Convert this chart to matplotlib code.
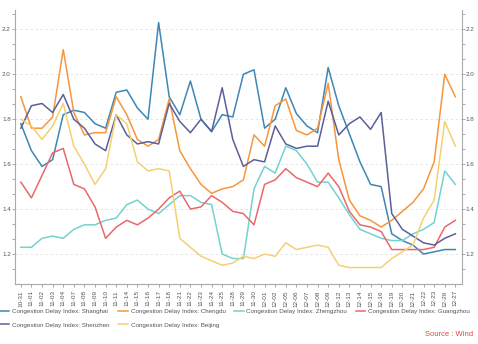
import numpy as np
import matplotlib
matplotlib.use("Agg")
import matplotlib.pyplot as plt
from matplotlib.ticker import MultipleLocator

plt.rcParams['font.family'] = ['Liberation Sans', 'DejaVu Sans']

dates = ["10-31", "11-01", "11-02", "11-03", "11-04", "11-07", "11-08", "11-09",
         "11-10", "11-11", "11-14", "11-15", "11-16", "11-17", "11-18", "11-21",
         "11-22", "11-23", "11-24", "11-25", "11-28", "11-29", "11-30", "12-01",
         "12-02", "12-05", "12-06", "12-07", "12-08", "12-09", "12-12", "12-13",
         "12-14", "12-15", "12-16", "12-19", "12-20", "12-21", "12-22", "12-23",
         "12-26", "12-27"]

shanghai = [1.78, 1.66, 1.59, 1.62, 1.82, 1.84, 1.83, 1.78, 1.76, 1.92, 1.93, 1.85,
            1.80, 2.23, 1.90, 1.82, 1.97, 1.80, 1.745, 1.82, 1.81, 2.00, 2.02, 1.76,
            1.80, 1.94, 1.825, 1.77, 1.74, 2.03, 1.86, 1.735, 1.61, 1.51, 1.50, 1.29,
            1.26, 1.24, 1.20, 1.21, 1.22, 1.22]
chengdu = [1.90, 1.76, 1.76, 1.81, 2.11, 1.83, 1.73, 1.74, 1.74, 1.90, 1.82, 1.71,
           1.68, 1.71, 1.89, 1.66, 1.58, 1.51, 1.47, 1.49, 1.50, 1.53, 1.73, 1.68,
           1.86, 1.89, 1.75, 1.73, 1.76, 1.96, 1.62, 1.44, 1.37, 1.35, 1.32, 1.35,
           1.39, 1.43, 1.49, 1.61, 2.00, 1.90]
zhengzhou = [1.23, 1.23, 1.27, 1.28, 1.27, 1.31, 1.33, 1.33, 1.35, 1.36, 1.42, 1.44,
             1.40, 1.38, 1.42, 1.46, 1.46, 1.43, 1.42, 1.20, 1.18, 1.18, 1.49, 1.59,
             1.56, 1.68, 1.66, 1.60, 1.52, 1.52, 1.45, 1.375, 1.31, 1.29, 1.27, 1.26,
             1.26, 1.29, 1.31, 1.34, 1.57, 1.51]
guangzhou = [1.52, 1.45, 1.55, 1.65, 1.67, 1.51, 1.49, 1.41, 1.27, 1.32, 1.35, 1.33,
             1.36, 1.40, 1.45, 1.48, 1.40, 1.41, 1.46, 1.43, 1.39, 1.38, 1.33, 1.51,
             1.53, 1.58, 1.54, 1.52, 1.50, 1.56, 1.50, 1.39, 1.33, 1.32, 1.30, 1.22,
             1.22, 1.22, 1.22, 1.23, 1.32, 1.35]
shenzhen = [1.76, 1.86, 1.87, 1.83, 1.91, 1.80, 1.76, 1.69, 1.66, 1.82, 1.73, 1.69,
            1.70, 1.69, 1.87, 1.79, 1.74, 1.80, 1.745, 1.94, 1.71, 1.59, 1.62, 1.61,
            1.77, 1.69, 1.67, 1.68, 1.68, 1.88, 1.73, 1.78, 1.81, 1.755, 1.83, 1.38,
            1.31, 1.28, 1.25, 1.24, 1.27, 1.29]
beijing = [1.80, 1.77, 1.71, 1.77, 1.87, 1.68, 1.60, 1.51, 1.58, 1.82, 1.78, 1.61,
           1.57, 1.58, 1.57, 1.27, 1.23, 1.19, 1.17, 1.15, 1.16, 1.19, 1.18, 1.20,
           1.19, 1.25, 1.22, 1.23, 1.24, 1.23, 1.15, 1.14, 1.14, 1.14, 1.14, 1.18,
           1.21, 1.24, 1.36, 1.44, 1.79, 1.68]

series = [
    ("Congestion Delay Index: Shanghai", shanghai, "#3d87b4"),
    ("Congestion Delay Index: Chengdu", chengdu, "#f7963c"),
    ("Congestion Delay Index: Zhengzhou", zhengzhou, "#74d2cf"),
    ("Congestion Delay Index: Guangzhou", guangzhou, "#e9686c"),
    ("Congestion Delay Index: Shenzhen", shenzhen, "#5b609a"),
    ("Congestion Delay Index: Beijing", beijing, "#f3d171"),
]

fig = plt.figure(figsize=(4.78, 3.44), dpi=100)
ax = fig.add_axes([15 / 478, 1 - 284 / 344, (461.7 - 15) / 478, (284 - 10) / 344])

x = np.arange(len(dates))
handles = []
for name, vals, col in series:
    h, = ax.plot(x, vals, color=col, lw=1.1, label=name)
    handles.append(h)

ax.set_xlim(-0.55, len(dates) - 0.4)
ax.set_ylim(1.0667, 2.286)
ax.set_xticks(x)
ax.set_xticklabels(dates, rotation=90, fontsize=4.6, color="#555555")
ax.yaxis.set_major_locator(MultipleLocator(0.2))
ax.yaxis.set_minor_locator(MultipleLocator(0.2 / 3))
ax.grid(axis="y", which="major", ls=(0, (3, 3)), color="#e2e2e2", lw=0.6)

ax.spines["top"].set_visible(False)
for s in ["left", "right", "bottom"]:
    ax.spines[s].set_color("#aaaaaa")
    ax.spines[s].set_linewidth(0.8)

ax.tick_params(axis="x", length=2.5, width=0.6, color="#999999", pad=2)
ax.tick_params(axis="y", which="both", length=2.2, width=0.6, color="#999999",
               labelsize=4.5, labelcolor="#555555", left=True, right=True,
               labelleft=True, labelright=True, pad=0.8)

# matplotlib fills legend columns first, so reorder to get row-wise layout
order = [0, 4, 1, 5, 2, 3]
fig.legend([handles[i] for i in order], [series[i][0] for i in order],
           loc="upper left", bbox_to_anchor=(0.0, 1 - 309 / 344), ncol=4,
           frameon=False, fontsize=4.5, handlelength=1.5, handletextpad=0.45,
           columnspacing=1.4, labelspacing=1.25, borderaxespad=0, borderpad=0,
           labelcolor="#555555")

fig.text(0.99, 1 - 335 / 344, "Source : Wind", color="#e8453c", fontsize=5.5,
         ha="right", va="center")

fig.savefig("out.png", dpi=100)
